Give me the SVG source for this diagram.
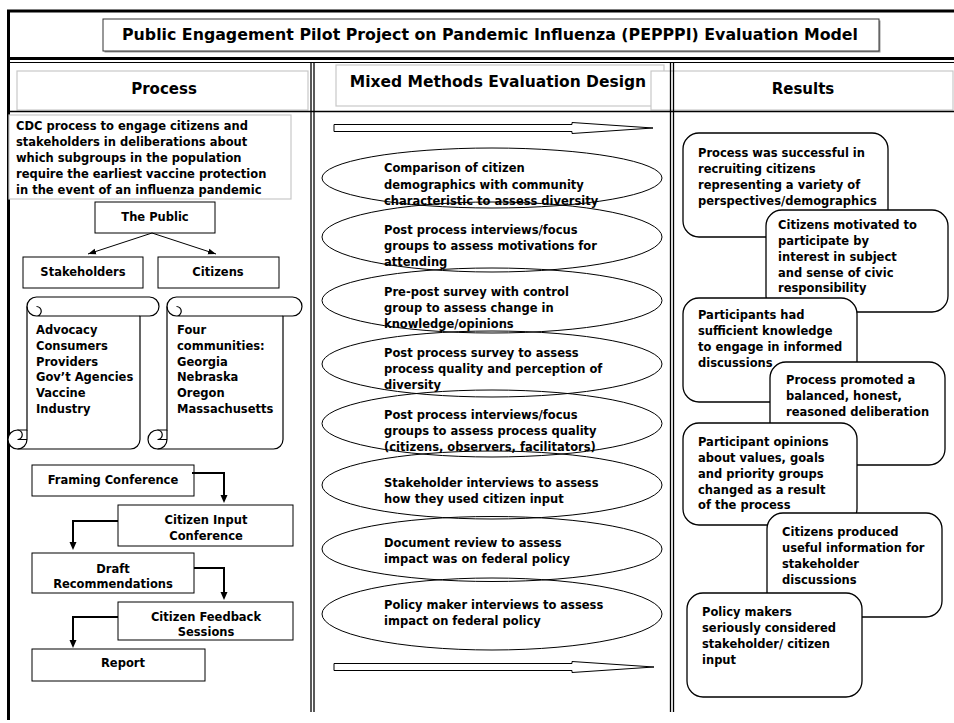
<svg xmlns="http://www.w3.org/2000/svg" width="954" height="723" viewBox="0 0 954 723">
<defs>
<style>
.t{font-family:"DejaVu Sans","Liberation Sans",sans-serif;font-weight:bold;font-size:11.5px;fill:#000}
.m{text-anchor:middle}
.h{font-size:15px}
.tt{font-size:15.3px}
.hm{font-size:15.5px}
.bx{fill:#fff;stroke:#000;stroke-width:1}
.gb{fill:#fff;stroke:#c8c8c8;stroke-width:1.2}
.rb{fill:#fff;stroke:#000;stroke-width:1.3}
.el{fill:none;stroke:#000;stroke-width:1}
.ln{fill:none;stroke:#000}
.cn{fill:none;stroke:#000;stroke-width:2}
.th{fill:none;stroke:#000;stroke-width:1}
.sc{fill:#fff;stroke:#000;stroke-width:1.2;stroke-linejoin:round}
.dt{fill:none;stroke:#000;stroke-width:1.2}
.ba{fill:#fff;stroke:#000;stroke-width:1}
</style>
<marker id="ah" markerUnits="userSpaceOnUse" markerWidth="10" markerHeight="10" viewBox="0 0 10 10" refX="4" refY="5" orient="auto"><path d="M0,1.5 L8,5 L0,8.5 z" fill="#000"/></marker>
<marker id="ah2" markerUnits="userSpaceOnUse" markerWidth="10" markerHeight="10" viewBox="0 0 10 10" refX="8" refY="5" orient="auto"><path d="M0,2 L8,5 L0,8 z" fill="#000"/></marker>
</defs>
<rect x="0" y="0" width="954" height="723" fill="#fff"/>

<!-- title -->
<g id="title">
<rect x="104.5" y="20.5" width="776" height="32" fill="#999"/>
<rect x="103" y="19" width="776" height="32" fill="#fff" stroke="#333" stroke-width="1"/>
<text class="t tt m" x="490" y="40" textLength="736" lengthAdjust="spacingAndGlyphs">Public Engagement Pilot Project on Pandemic Influenza (PEPPPI) Evaluation Model</text>
</g>

<!-- headers -->
<g id="hdr-process">
<rect class="gb" x="17" y="71" width="291" height="39"/>
<text class="t h m" x="164" y="94">Process</text>
</g>
<g id="hdr-mixed">
<rect class="gb" x="336" y="65" width="328" height="41"/>
<text class="t hm m" x="498" y="86.5">Mixed Methods Evaluation Design</text>
</g>
<g id="hdr-results">
<rect class="gb" x="651" y="71" width="302" height="39"/>
<text class="t h m" x="803" y="94">Results</text>
</g>

<!-- frame lines -->
<g id="frame" class="ln">
<line x1="7" y1="11" x2="954" y2="11" stroke-width="3"/>
<line x1="8.5" y1="10" x2="8.5" y2="720" stroke-width="3"/>
<line x1="7" y1="58.5" x2="954" y2="58.5" stroke-width="3"/>
<line x1="7" y1="62.5" x2="954" y2="62.5" stroke-width="1.2"/>
<line x1="8" y1="111.5" x2="954" y2="111.5" stroke-width="1.5"/>
<line x1="311" y1="62" x2="311" y2="712" stroke-width="1.3"/>
<line x1="314" y1="62" x2="314" y2="712" stroke-width="1.3"/>
<line x1="670.5" y1="62" x2="670.5" y2="712" stroke-width="1.3"/>
<line x1="673.5" y1="62" x2="673.5" y2="712" stroke-width="1.3"/>
</g>

<!-- left column -->
<g id="cdc">
<rect class="gb" x="9" y="115" width="282" height="84"/>
<text class="t" x="16" y="130">CDC process to engage citizens and</text>
<text class="t" x="16" y="146">stakeholders in deliberations about</text>
<text class="t" x="16" y="162">which subgroups in the population</text>
<text class="t" x="16" y="178">require the earliest vaccine protection</text>
<text class="t" x="16" y="194">in the event of an influenza pandemic</text>
</g>
<g id="public">
<rect class="bx" x="95" y="202" width="120" height="31"/>
<text class="t m" x="155" y="221">The Public</text>
</g>
<g id="stakeholders">
<rect class="bx" x="23" y="257" width="120" height="31"/>
<text class="t m" x="83" y="276">Stakeholders</text>
</g>
<g id="citizens">
<rect class="bx" x="158" y="257" width="121" height="31"/>
<text class="t m" x="218" y="276">Citizens</text>
</g>

<g id="scroll-stakeholders">
<path class="sc" d="M17.5 449 A9.5 9.5 0 0 1 17.5 430 H27 V306.5 A9.5 9.5 0 0 1 36.5 297 H149.5 A9.5 9.5 0 0 1 149.5 316 H140 V439.5 A9.5 9.5 0 0 1 130.5 449 Z"/>
<path class="dt" d="M27 306.5 A9.5 9.5 0 0 0 36.5 316 A4.75 4.75 0 0 0 36.5 306.5 M36.5 316 H140 M17.5 430 A4.75 4.75 0 0 1 17.5 439.5 H27 M27 430 V439.5 A9.5 9.5 0 0 1 17.5 449"/>
<text class="t" x="36" y="334">Advocacy</text>
<text class="t" x="36" y="350">Consumers</text>
<text class="t" x="36" y="366">Providers</text>
<text class="t" x="36" y="381">Gov’t Agencies</text>
<text class="t" x="36" y="397">Vaccine</text>
<text class="t" x="36" y="413">Industry</text>
</g>
<g id="scroll-citizens">
<path class="sc" d="M157.5 449 A9.5 9.5 0 0 1 157.5 430 H167 V306.5 A9.5 9.5 0 0 1 176.5 297 H292.5 A9.5 9.5 0 0 1 292.5 316 H283 V439.5 A9.5 9.5 0 0 1 273.5 449 Z"/>
<path class="dt" d="M167 306.5 A9.5 9.5 0 0 0 176.5 316 A4.75 4.75 0 0 0 176.5 306.5 M176.5 316 H283 M157.5 430 A4.75 4.75 0 0 1 157.5 439.5 H167 M167 430 V439.5 A9.5 9.5 0 0 1 157.5 449"/>
<text class="t" x="177" y="334">Four</text>
<text class="t" x="177" y="350">communities:</text>
<text class="t" x="177" y="366">Georgia</text>
<text class="t" x="177" y="381">Nebraska</text>
<text class="t" x="177" y="397">Oregon</text>
<text class="t" x="177" y="413">Massachusetts</text>
</g>

<g id="framing">
<rect class="bx" x="32" y="465" width="162" height="31"/>
<text class="t m" x="113" y="484">Framing Conference</text>
</g>
<g id="input-conf">
<rect class="bx" x="118" y="505" width="175" height="41"/>
<text class="t m" x="206" y="524">Citizen Input</text>
<text class="t m" x="206" y="540">Conference</text>
</g>
<g id="draft">
<rect class="bx" x="32" y="553" width="162" height="40"/>
<text class="t m" x="113" y="573">Draft</text>
<text class="t m" x="113" y="588">Recommendations</text>
</g>
<g id="feedback">
<rect class="bx" x="118" y="602" width="175" height="38"/>
<text class="t m" x="206" y="621">Citizen Feedback</text>
<text class="t m" x="206" y="636">Sessions</text>
</g>
<g id="report">
<rect class="bx" x="32" y="649" width="173" height="32"/>
<text class="t m" x="123" y="667">Report</text>
</g>

<!-- connectors -->
<g id="connectors">
<path class="th" d="M152 233 L88 254" marker-end="url(#ah2)"/>
<path class="th" d="M152 233 L216 254" marker-end="url(#ah2)"/>
<path class="cn" d="M192 473 H224 V499" marker-end="url(#ah)"/>
<path class="cn" d="M118 521 H73 V546" marker-end="url(#ah)"/>
<path class="cn" d="M194 568 H224 V596" marker-end="url(#ah)"/>
<path class="cn" d="M118 617 H73 V644" marker-end="url(#ah)"/>
</g>

<!-- middle column -->
<g id="arrow-top">
<polygon class="ba" points="334,124.5 572,124.5 572,122.5 653,128 572,133.5 572,131.5 334,131.5"/>
</g>
<g id="arrow-bottom">
<polygon class="ba" points="334,663.5 572,663.5 572,661.5 654,667 572,672.5 572,670.5 334,670.5"/>
</g>
<g id="m1">
<ellipse class="el" cx="492" cy="178" rx="170" ry="30"/>
<text class="t" x="384" y="172">Comparison of citizen</text>
<text class="t" x="384" y="189">demographics with community</text>
<text class="t" x="384" y="205">characteristic to assess diversity</text>
</g>
<g id="m2">
<ellipse class="el" cx="492" cy="237" rx="170" ry="35"/>
<text class="t" x="384" y="234">Post process interviews/focus</text>
<text class="t" x="384" y="250">groups to assess motivations for</text>
<text class="t" x="384" y="266">attending</text>
</g>
<g id="m3">
<ellipse class="el" cx="492" cy="300.5" rx="170" ry="32.5"/>
<text class="t" x="384" y="296">Pre-post survey with control</text>
<text class="t" x="384" y="312">group to assess change in</text>
<text class="t" x="384" y="328">knowledge/opinions</text>
</g>
<g id="m4">
<ellipse class="el" cx="492" cy="364" rx="170" ry="33"/>
<text class="t" x="384" y="357">Post process survey to assess</text>
<text class="t" x="384" y="373">process quality and perception of</text>
<text class="t" x="384" y="389">diversity</text>
</g>
<g id="m5">
<ellipse class="el" cx="492" cy="423.5" rx="170" ry="33.5"/>
<text class="t" x="384" y="419">Post process interviews/focus</text>
<text class="t" x="384" y="435">groups to assess process quality</text>
<text class="t" x="384" y="451">(citizens, observers, facilitators)</text>
</g>
<g id="m6">
<ellipse class="el" cx="492" cy="485" rx="170" ry="34"/>
<text class="t" x="384" y="487">Stakeholder interviews to assess</text>
<text class="t" x="384" y="503">how they used citizen input</text>
</g>
<g id="m7">
<ellipse class="el" cx="492" cy="549" rx="170" ry="32.5"/>
<text class="t" x="384" y="547">Document review to assess</text>
<text class="t" x="384" y="563">impact was on federal policy</text>
</g>
<g id="m8">
<ellipse class="el" cx="492" cy="614" rx="170" ry="36"/>
<text class="t" x="384" y="609">Policy maker interviews to assess</text>
<text class="t" x="384" y="625">impact on federal policy</text>
</g>

<!-- right column -->
<g id="r1">
<rect class="rb" x="683" y="133" width="205" height="104" rx="16"/>
<text class="t" x="698" y="157">Process was successful in</text>
<text class="t" x="698" y="173">recruiting citizens</text>
<text class="t" x="698" y="189">representing a variety of</text>
<text class="t" x="698" y="205">perspectives/demographics</text>
</g>
<g id="r2">
<rect class="rb" x="766" y="210" width="182" height="102" rx="16"/>
<text class="t" x="778" y="229">Citizens motivated to</text>
<text class="t" x="778" y="245">participate by</text>
<text class="t" x="778" y="261">interest in subject</text>
<text class="t" x="778" y="277">and sense of civic</text>
<text class="t" x="778" y="292">responsibility</text>
</g>
<g id="r3">
<rect class="rb" x="683" y="298" width="174" height="104" rx="16"/>
<text class="t" x="698" y="319">Participants had</text>
<text class="t" x="698" y="335">sufficient knowledge</text>
<text class="t" x="698" y="351">to engage in informed</text>
<text class="t" x="698" y="367">discussions</text>
</g>
<g id="r4">
<rect class="rb" x="770" y="362" width="175" height="103" rx="16"/>
<text class="t" x="786" y="384">Process promoted a</text>
<text class="t" x="786" y="400">balanced, honest,</text>
<text class="t" x="786" y="416">reasoned deliberation</text>
</g>
<g id="r5">
<rect class="rb" x="683" y="423" width="174" height="102" rx="16"/>
<text class="t" x="698" y="446">Participant opinions</text>
<text class="t" x="698" y="462">about values, goals</text>
<text class="t" x="698" y="478">and priority groups</text>
<text class="t" x="698" y="494">changed as a result</text>
<text class="t" x="698" y="509">of the process</text>
</g>
<g id="r6">
<rect class="rb" x="767" y="513" width="175" height="104" rx="16"/>
<text class="t" x="782" y="536">Citizens produced</text>
<text class="t" x="782" y="552">useful information for</text>
<text class="t" x="782" y="568">stakeholder</text>
<text class="t" x="782" y="584">discussions</text>
</g>
<g id="r7">
<rect class="rb" x="687" y="593" width="175" height="104" rx="16"/>
<text class="t" x="702" y="616">Policy makers</text>
<text class="t" x="702" y="632">seriously considered</text>
<text class="t" x="702" y="648">stakeholder/ citizen</text>
<text class="t" x="702" y="664">input</text>
</g>
</svg>
